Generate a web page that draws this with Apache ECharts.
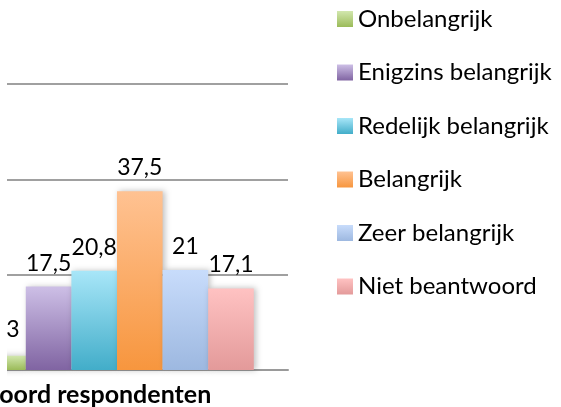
<!DOCTYPE html>
<html>
    <head>
        <meta charset="utf-8">
        <script src="https://cdn.jsdelivr.net/npm/echarts@6/dist/echarts.min.js"></script>
        <style>
            body { margin: 0; background: #fff; }
            #main { width: 561px; height: 407px; }
        </style>
    </head>
    <body>
        <div id="main"></div>
        <script>
        // data
        const categories = ['Antwoord respondenten'];
        const seriesNames = ['Onbelangrijk', 'Enigzins belangrijk', 'Redelijk belangrijk', 'Belangrijk', 'Zeer belangrijk', 'Niet beantwoord'];
        const seriesValues = [3, 17.5, 20.8, 37.5, 21, 17.1];
        const yTicks = [0, 20, 40, 60];

        // gradient top / bottom per series
        const colorsTop = ['#d2e7ae', '#cdbfe6', '#a8e6f8', '#ffc292', '#c8dcfb', '#ffc2c2'];
        const colorsBottom = ['#9bbb59', '#8064a2', '#42adc9', '#f7963e', '#9db8e0', '#e39a9a'];

        const chart = echarts.init(document.getElementById('main'));

        const series = seriesNames.map(function (name, i) {
            return {
                type: 'bar',
                name: name,
                barGap: '0%',
                barCategoryGap: '20%',
                data: [seriesValues[i]],
                itemStyle: {
                    color: new echarts.graphic.LinearGradient(0, 0, 0, 1, [
                        { offset: 0, color: colorsTop[i] },
                        { offset: 1, color: colorsBottom[i] }
                    ]),
                    shadowBlur: 6,
                    shadowColor: 'rgba(0,0,0,0.25)',
                    shadowOffsetX: 2
                },
                label: {
                    show: true,
                    position: 'top',
                    distance: 12,
                    offset: i === 0 ? [10, -3] : [0, 0],
                    fontFamily: 'Lato',
                    fontSize: 23,
                    color: '#000',
                    formatter: function (p) {
                        return String(p.value).replace('.', ',');
                    }
                }
            };
        });

        chart.setOption({
            animation: false,
            // plot area runs past the left edge of the picture
            grid: { left: -54, right: 273, top: 84, bottom: 37, outerBoundsMode: 'none' },
            legend: {
                orient: 'vertical',
                left: 337,
                top: 7,
                padding: 0,
                itemWidth: 16,
                itemHeight: 16,
                itemGap: 29.5,
                icon: 'rect',
                textStyle: { fontFamily: 'Lato', fontSize: 24, lineHeight: 24, color: '#000' },
                data: seriesNames
            },
            xAxis: {
                type: 'category',
                data: categories,
                axisTick: { show: false },
                axisLine: { lineStyle: { color: '#9a9a9a', width: 2 } },
                axisLabel: {
                    margin: 12,
                    fontFamily: 'Lato',
                    fontWeight: 'bold',
                    fontSize: 25,
                    color: '#000',
                    padding: [0, 84, 0, 0]
                }
            },
            yAxis: {
                type: 'value',
                min: yTicks[0],
                max: yTicks[yTicks.length - 1],
                interval: 20,
                axisLabel: { show: false },
                axisLine: { show: false },
                axisTick: { show: false },
                splitLine: { lineStyle: { color: '#a0a0a0', width: 2 } }
            },
            graphic: [{
                type: 'rect',
                left: 0,
                top: 0,
                shape: { width: 7, height: 380 },
                style: { fill: '#fff' },
                z: 100
            }],
            series: series
        });
        </script>
    </body>
</html>
